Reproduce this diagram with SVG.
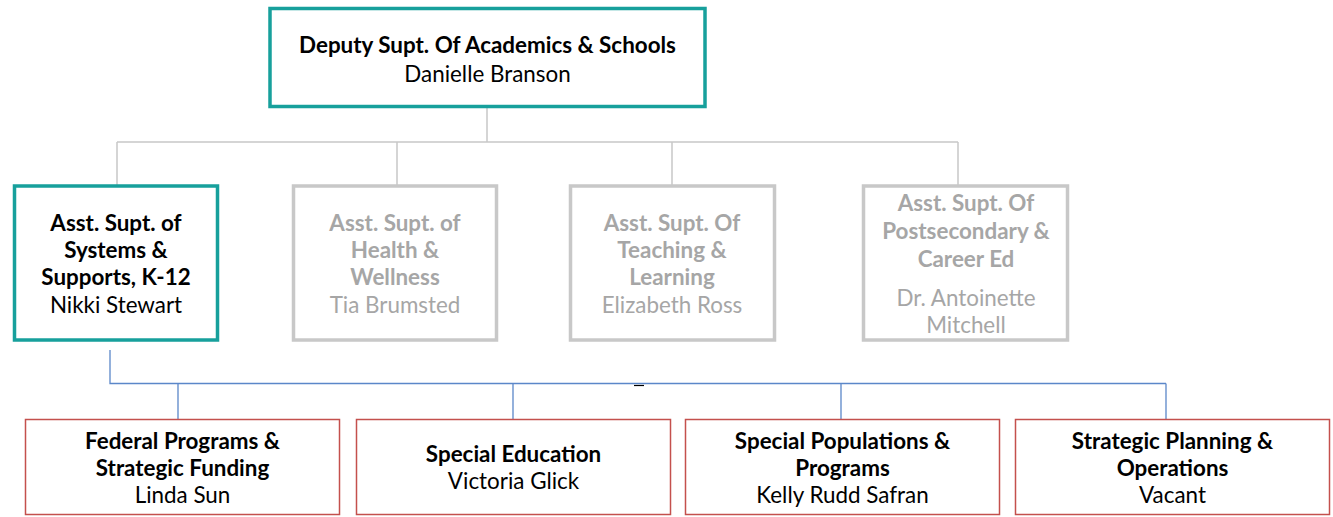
<svg xmlns="http://www.w3.org/2000/svg" width="1333" height="517" viewBox="0 0 1333 517">
<style>
text{font-family:Lato,"Liberation Sans",sans-serif;font-size:22.4px;text-anchor:middle}
.b{font-weight:bold}
.k{fill:#000}
.g{fill:#a6a6a6}
.teal{fill:#fff;stroke:#17a09c;stroke-width:3.5}
.gray{fill:#fff;stroke:#c8c8c8;stroke-width:3.5}
.red{fill:#fff;stroke:#c4504d;stroke-width:1.5}
.cg{stroke:#c8c8c8;stroke-width:1.5;fill:none}
.cb{stroke:#5b87c9;stroke-width:1.3;fill:none}
</style>
<g id="connectors">
<path class="cg" d="M487 107V142M117 142H958M117 142V185M397 142V185M672 142V185M958 142V185"/>
<path class="cb" d="M110 350V383.5H1166M178 383.5V420M513 383.5V420M841 383.5V420M1166 383.5V420"/>
<line x1="634" y1="385.5" x2="644" y2="385.5" stroke="#000" stroke-width="1.2"/>
</g>
<g id="deputy">
<rect class="teal" x="270" y="8.5" width="435" height="98"/>
<text class="b k" x="487.5" y="53">Deputy Supt. Of Academics &amp; Schools</text>
<text class="k" x="487.5" y="82">Danielle Branson</text>
</g>
<g id="systems">
<rect class="teal" x="14.5" y="186" width="203" height="154"/>
<text class="b k" x="116" y="231">Asst. Supt. of</text>
<text class="b k" x="116" y="258">Systems &amp;</text>
<text class="b k" x="116" y="285">Supports, K-12</text>
<text class="k" x="116" y="313">Nikki Stewart</text>
</g>
<g id="health">
<rect class="gray" x="293.5" y="186" width="203" height="154"/>
<text class="b g" x="395" y="231">Asst. Supt. of</text>
<text class="b g" x="395" y="258">Health &amp;</text>
<text class="b g" x="395" y="285">Wellness</text>
<text class="g" x="395" y="313">Tia Brumsted</text>
</g>
<g id="teaching">
<rect class="gray" x="570.5" y="186" width="204" height="154"/>
<text class="b g" x="672" y="231">Asst. Supt. Of</text>
<text class="b g" x="672" y="258">Teaching &amp;</text>
<text class="b g" x="672" y="285">Learning</text>
<text class="g" x="672" y="313">Elizabeth Ross</text>
</g>
<g id="postsecondary">
<rect class="gray" x="863.5" y="186" width="204" height="154"/>
<text class="b g" x="966" y="211">Asst. Supt. Of</text>
<text class="b g" x="966" y="239">Postsecondary &amp;</text>
<text class="b g" x="966" y="267">Career Ed</text>
<text class="g" x="966" y="306">Dr. Antoinette</text>
<text class="g" x="966" y="333">Mitchell</text>
</g>
<g id="federal">
<rect class="red" x="25.5" y="419.5" width="314" height="95"/>
<text class="b k" x="182.5" y="449">Federal Programs &amp;</text>
<text class="b k" x="182.5" y="476">Strategic Funding</text>
<text class="k" x="182.5" y="503">Linda Sun</text>
</g>
<g id="sped">
<rect class="red" x="356.5" y="419.5" width="314" height="95"/>
<text class="b k" x="513.5" y="462">Special Education</text>
<text class="k" x="513.5" y="489">Victoria Glick</text>
</g>
<g id="populations">
<rect class="red" x="685.5" y="419.5" width="314" height="95"/>
<text class="b k" x="842.5" y="449">Special Populations &amp;</text>
<text class="b k" x="842.5" y="476">Programs</text>
<text class="k" x="842.5" y="503">Kelly Rudd Safran</text>
</g>
<g id="planning">
<rect class="red" x="1015.5" y="419.5" width="314" height="95"/>
<text class="b k" x="1172.5" y="449">Strategic Planning &amp;</text>
<text class="b k" x="1172.5" y="476">Operations</text>
<text class="k" x="1172.5" y="503">Vacant</text>
</g>
</svg>
